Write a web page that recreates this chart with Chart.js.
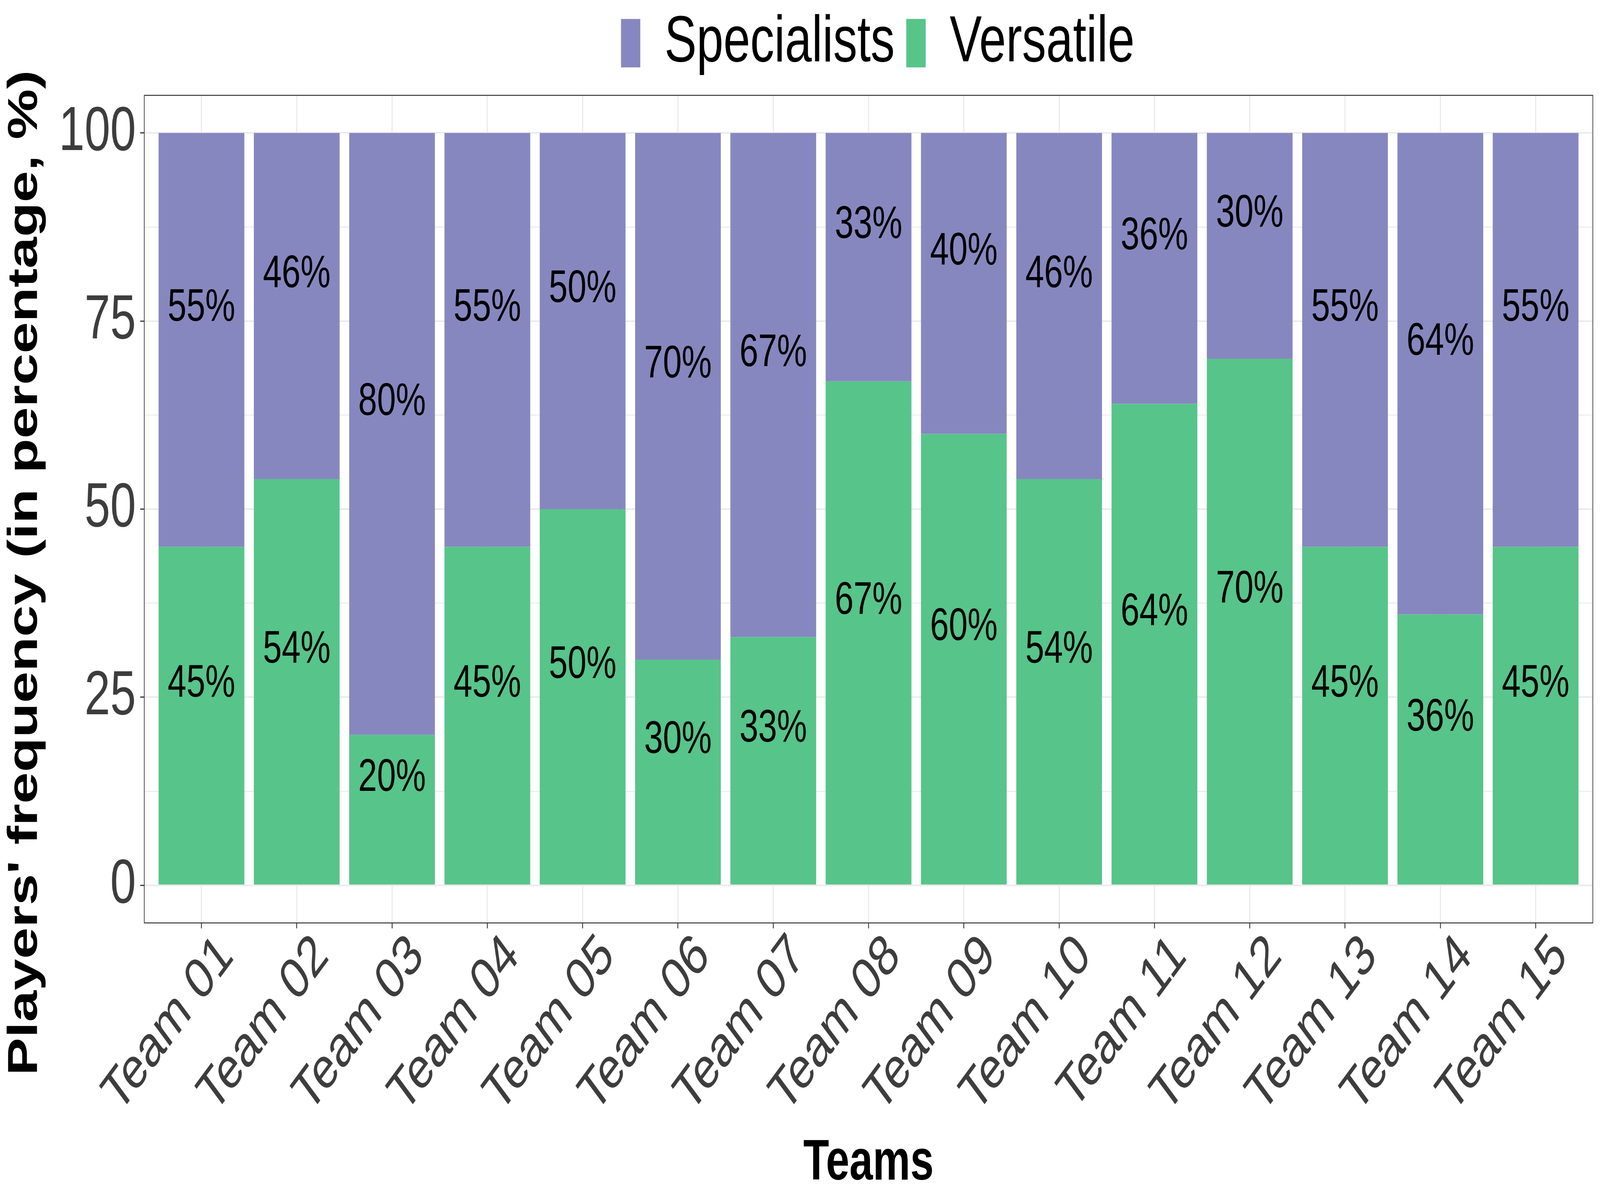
<!DOCTYPE html>
<html>
<head>
<meta charset="utf-8">
<title>Players' frequency by team</title>
<script src="https://cdn.jsdelivr.net/npm/chart.js@4.4.1/dist/chart.umd.min.js"></script>
<style>
  html, body { margin: 0; padding: 0; background: #fff; overflow: hidden; width: 100%; height: 100%; }
  #chart { display: block; }
</style>
</head>
<body>
<!-- drawn on a 5545 x 3066 grid and fitted to whatever window we get -->
<canvas id="chart" width="5545" height="3066" style="width:100vw;height:100vh"></canvas>
<script>
// data
const teams = ['Team 01', 'Team 02', 'Team 03', 'Team 04', 'Team 05', 'Team 06', 'Team 07', 'Team 08',
               'Team 09', 'Team 10', 'Team 11', 'Team 12', 'Team 13', 'Team 14', 'Team 15'];
const versatile   = [45, 54, 20, 45, 50, 30, 33, 67, 60, 54, 64, 70, 45, 36, 45];
const specialists = [55, 46, 80, 55, 50, 70, 67, 33, 40, 46, 36, 30, 55, 64, 55];
const yTicks      = [0, 25, 50, 75, 100];
const yMinorTicks = [12.5, 37.5, 62.5, 87.5];

const FONT = "'Liberation Sans', Arial, Helvetica, sans-serif";
const COLORS = { specialists: '#8787C0', versatile: '#57C48A' };
const GRID = '#EBEBEB';
const AXIS_TEXT = '#3D3D3D';

// label sits a bit above the middle of its segment (as in the original)
const LABEL_LIFT = 4.2;

const ggLook = {
    id: 'ggLook',
    afterLayout(chart) {
        // legend is centred over the panel in the original, a little higher than Chart.js puts it
        const lg = chart.legend;
        if (!lg) return;
        const dx = 3042 - (lg.left + lg.right) / 2;
        lg.left += dx;
        lg.right += dx;
        lg.top -= 40;
        lg.bottom -= 40;
    },
    afterDatasetsDraw(chart) {
        const { ctx, chartArea, scales } = chart;
        const lift = scales.y.getPixelForValue(0) - scales.y.getPixelForValue(LABEL_LIFT);

        ctx.save();
        ctx.font = `117px ${FONT}`;
        ctx.fillStyle = '#000';
        ctx.textAlign = 'center';
        ctx.textBaseline = 'middle';
        chart.data.datasets.forEach((ds, d) => {
            const meta = chart.getDatasetMeta(d);
            meta.data.forEach((bar, i) => {
                const mid = (bar.y + bar.base) / 2 - lift;
                ctx.fillText(ds.data[i].y + '%', bar.x, mid);
            });
        });
        ctx.restore();

        // panel border
        ctx.save();
        ctx.strokeStyle = '#333333';
        ctx.lineWidth = 2.5;
        ctx.strokeRect(chartArea.left, chartArea.top, chartArea.right - chartArea.left, chartArea.bottom - chartArea.top);
        ctx.restore();
    },
    afterDraw(chart) {
        // y title sits lower than the panel centre in the original
        const { ctx } = chart;
        ctx.save();
        ctx.translate(128, 1466);
        ctx.rotate(-Math.PI / 2);
        ctx.font = `bold 145px ${FONT}`;
        ctx.fillStyle = '#000';
        ctx.textAlign = 'center';
        ctx.textBaseline = 'alphabetic';
        ctx.fillText("Players' frequency (in percentage, %)", 0, 0);
        ctx.restore();
    }
};

new Chart(document.getElementById('chart'), {
    type: 'bar',
    data: {
        datasets: [
            {
                label: 'Versatile',
                data: versatile.map((v, i) => ({ x: i, y: v })),
                backgroundColor: COLORS.versatile,
                borderWidth: 0
            },
            {
                label: 'Specialists',
                data: specialists.map((v, i) => ({ x: i, y: v })),
                backgroundColor: COLORS.specialists,
                borderWidth: 0
            }
        ]
    },
    options: {
        responsive: false,
        devicePixelRatio: 1,
        animation: false,
        categoryPercentage: 1,
        barPercentage: 0.9,
        layout: { padding: { left: 0, right: 25, top: 27, bottom: 0 } },
        scales: {
            x: {
                type: 'linear',
                stacked: true,
                offset: false,
                min: -0.6,
                max: teams.length - 1 + 0.6,
                afterBuildTicks(scale) {
                    scale.ticks = teams.map((_, i) => ({ value: i }));
                },
                afterFit(scale) {
                    scale.height = 704;
                },
                border: { display: false },
                grid: {
                    offset: false,
                    color: GRID,
                    lineWidth: 4,
                    tickColor: '#333333',
                    tickWidth: 3,
                    tickLength: 14
                },
                ticks: {
                    autoSkip: false,
                    minRotation: 45,
                    maxRotation: 45,
                    // ggplot hangs the label's top-right corner under the tick
                    labelOffset: 87,
                    padding: -16,
                    color: AXIS_TEXT,
                    font: { family: FONT, size: 148 },
                    callback: (value) => teams[value]
                },
                title: {
                    display: true,
                    text: 'Teams',
                    color: '#000',
                    font: { family: FONT, size: 146, weight: 'bold' },
                    padding: { top: 0, bottom: 0 }
                }
            },
            y: {
                stacked: true,
                min: -5,
                max: 105,
                afterBuildTicks(scale) {
                    scale.ticks = yTicks.concat(yMinorTicks).sort((a, b) => a - b).map(v => ({ value: v }));
                },
                afterFit(scale) {
                    scale.width = 500;
                },
                border: { display: false },
                grid: {
                    color: GRID,
                    lineWidth: (c) => (c.tick && yTicks.includes(c.tick.value) ? 4 : 2.5),
                    tickColor: (c) => (c.tick && yTicks.includes(c.tick.value) ? '#333333' : 'rgba(0,0,0,0)'),
                    tickWidth: 3,
                    tickLength: 14
                },
                ticks: {
                    autoSkip: false,
                    padding: 15,
                    color: AXIS_TEXT,
                    font: { family: FONT, size: 160 },
                    callback: (value) => (yTicks.includes(value) ? String(value) : '')
                }
            }
        },
        plugins: {
            legend: {
                position: 'top',
                reverse: true,
                labels: {
                    boxWidth: 67,
                    boxHeight: 124,
                    padding: 40,
                    color: '#000',
                    font: { family: FONT, size: 167 }
                }
            },
            tooltip: { enabled: false }
        }
    },
    plugins: [ggLook]
});
</script>
</body>
</html>
